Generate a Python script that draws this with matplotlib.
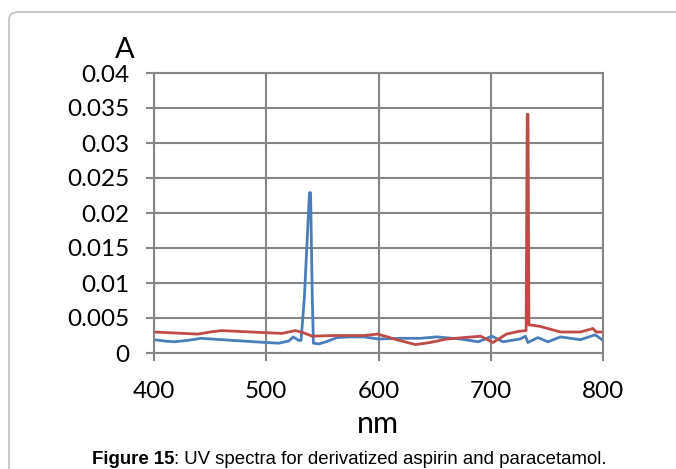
import numpy as np
import matplotlib.pyplot as plt
from matplotlib.patches import FancyBboxPatch

# blue curve (aspirin)
nm_blue = [400, 410, 418, 430, 442, 470, 500, 511, 520, 524, 529, 531, 534, 537, 538.5, 539.5, 541, 542, 547, 555, 563,
           575, 587, 600, 620, 637, 652, 673, 689, 701, 711, 726, 731, 733, 742, 751, 762, 780, 793, 800]
abs_blue = [0.0019, 0.0017, 0.0016, 0.0018, 0.0021, 0.0018, 0.0015, 0.0014, 0.0017, 0.0023, 0.0018, 0.0018, 0.008, 0.018,
            0.0229, 0.0229, 0.008, 0.0014, 0.0013, 0.0017, 0.0022,
            0.0023, 0.0023, 0.0020, 0.0021, 0.0021, 0.0023, 0.0020, 0.0016, 0.0024, 0.0016, 0.0020, 0.0024, 0.0015, 0.0022,
            0.0016, 0.0023, 0.0019, 0.0026, 0.0018]

# red curve (paracetamol)
nm_red = [400, 439, 450, 460, 500, 514, 526, 533, 541, 560, 587, 599, 608, 616, 633, 646, 661, 691, 702, 714, 725, 731.5,
          732.5, 733.2, 734, 736, 744, 762, 780, 791, 794, 800]
abs_red = [0.0030, 0.0027, 0.0030, 0.0032, 0.0029, 0.0028, 0.0032, 0.0029, 0.0024, 0.0025, 0.0025, 0.0027, 0.0023,
           0.0019, 0.0012, 0.0015, 0.0020, 0.0024, 0.0015, 0.0027, 0.0031, 0.0032,
           0.0341, 0.0341, 0.0040, 0.0040, 0.0038, 0.0030, 0.0030, 0.0035, 0.0030, 0.0030]

xticks = [400, 500, 600, 700, 800]
yticks = [0, 0.005, 0.01, 0.015, 0.02, 0.025, 0.03, 0.035, 0.04]
ylabels = ['0', '0.005', '0.01', '0.015', '0.02', '0.025', '0.03', '0.035', '0.04']

fig = plt.figure(figsize=(6.76, 4.69), dpi=100)
frame = FancyBboxPatch((9 / 676, -0.1), 1.0, 1.1 - 12 / 469,
                       boxstyle='round,pad=0,rounding_size=0.015',
                       transform=fig.transFigure, fc='white', ec='#c0c0c0', lw=1.2, zorder=-5)
fig.patches.append(frame)

ax = fig.add_axes([154 / 676, 116 / 469, 449 / 676, 280 / 469])
ax.plot(nm_blue, abs_blue, color='#4a7ebb', lw=2)
ax.plot(nm_red, abs_red, color='#be4b48', lw=2)

ax.set_xlim(400, 800)
ax.set_ylim(0, 0.04)
ax.set_xticks(xticks)
ax.set_xticklabels([str(v) for v in xticks], fontsize=17.5, family='Lato')
ax.set_yticks(yticks)
ax.set_yticklabels(ylabels, fontsize=17.5, family='Lato')
ax.grid(True, color='#868686', lw=1.5)
ax.set_axisbelow(True)
for s in ax.spines.values():
    s.set_color('#868686')
    s.set_linewidth(1.5)
ax.tick_params(color='#868686', width=1.5, length=6)
ax.tick_params(axis='y', pad=12)
ax.tick_params(axis='x', pad=14)

# axis titles
fig.text(378 / 676, 1 - 433 / 469, 'nm', fontsize=22, family='Lato', ha='center', va='baseline')
fig.text(125 / 676, 1 - 50 / 469, 'A', fontsize=21, family='Lato', ha='center', va='center')

t1 = fig.text(92 / 676, 1 - 464 / 469, 'Figure 15', fontsize=13.4, family='Liberation Sans', weight='bold',
              ha='left', va='baseline')
fig.canvas.draw()
bb = t1.get_window_extent()
fig.text(bb.x1 / 676, 1 - 464 / 469, ': UV spectra for derivatized aspirin and paracetamol.', fontsize=13.4,
         family='Liberation Sans', ha='left', va='baseline')

plt.savefig('out.png', dpi=100)
